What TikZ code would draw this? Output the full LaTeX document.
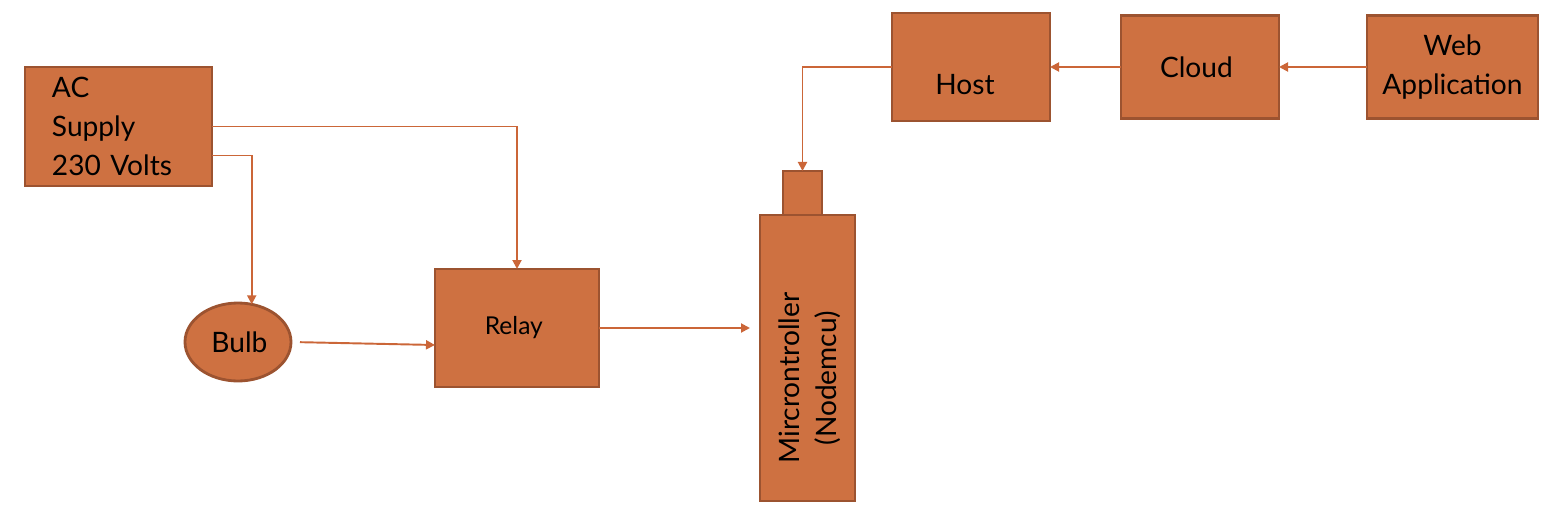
\documentclass[tikz,border=0pt]{standalone}
\usepackage{fontspec}
\setmainfont{Lato}
\usetikzlibrary{arrows.meta,positioning,calc,shapes.geometric}

\definecolor{blockFill}{HTML}{CE7141}
\definecolor{blockDraw}{HTML}{9C5330}
\definecolor{wireColor}{HTML}{CB6638}

\begin{document}
\begin{tikzpicture}[
        blockBox/.style={
            draw=blockDraw,
            fill=blockFill,
            line width=1.6pt,
            outer sep=0pt,
            inner sep=0pt,
            align=center,
            font=\fontsize{16}{22}\selectfont
        },
        bulbShape/.style={
            blockBox,
            ellipse,
            minimum width=2.12cm,
            minimum height=1.56cm
        },
        boxText/.style={
            font=\fontsize{16}{21}\selectfont,
            align=center,
            inner sep=0pt
        },
        wire/.style={
            draw=wireColor,
            line width=1.1pt,
            -{Triangle[length=0.18cm,width=0.18cm]}
        }
    ]

        \useasboundingbox (0,0) rectangle (31.22,-10.54);

        % Supply side
        \node[
            blockBox,
            minimum width=3.74cm,
            minimum height=2.38cm,
            text width=2.66cm,
            align=left
        ] (acSupply) at (2.37,-2.53) {
            AC\\
            Supply\\
            230~Volts
        };

        \node[
            bulbShape,
            below=2.34cm of acSupply,
            xshift=2.39cm
        ] (bulb) {
            \hspace{0.2cm}Bulb
        };

        \node[
            blockBox,
            minimum width=3.28cm,
            minimum height=2.36cm,
            font=\fontsize{14}{18}\selectfont,
            right=2.88cm of bulb,
            yshift=0.28cm
        ] (relay) {
            Relay
        };

        % Controller
        \node[
            blockBox,
            minimum width=1.9cm,
            minimum height=5.72cm,
            right=3.22cm of relay,
            yshift=-0.6cm
        ] (micro) {};

        \node[
            blockBox,
            minimum width=0.78cm,
            minimum height=0.88cm,
            above=0cm of micro,
            xshift=-0.1cm
        ] (microTab) {};

        \node[
            boxText,
            rotate=90
        ] (microLabel) at ([yshift=-0.4cm, xshift=0.04cm]micro.center) {
            Mircrontroller\\
            (Nodemcu)
        };

        % Network side
        \node[
            blockBox,
            minimum width=3.16cm,
            minimum height=2.16cm
        ] (host) at (19.42,-1.34) {};

        \node[boxText] (hostLabel) at ([yshift=-0.36cm, xshift=-0.12cm]host.center) {Host};

        \node[
            blockBox,
            minimum width=3.16cm,
            minimum height=2.06cm,
            right=1.42cm of host
        ] (cloud) {
            Cloud
        };

        \node[
            blockBox,
            minimum width=3.42cm,
            minimum height=2.06cm,
            right=1.76cm of cloud
        ] (webApp) {
            Web\\
            Application
        };

        % Connections
        \draw[wire] (acSupply.east) -| (relay.north);
        \draw[wire] ([yshift=-0.58cm]acSupply.east) -| (bulb.70);
        \draw[wire, shorten <=0.18cm] (bulb.east) -- ([yshift=-0.34cm]relay.west);
        \draw[wire, shorten >=0.2cm] (relay.east) -- (relay.east -| micro.west);
        \draw[wire] (host.west) -| (microTab.north);
        \draw[wire] (cloud.west) -- (host.east);
        \draw[wire] (webApp.west) -- (cloud.east);

    \end{tikzpicture}
\end{document}
